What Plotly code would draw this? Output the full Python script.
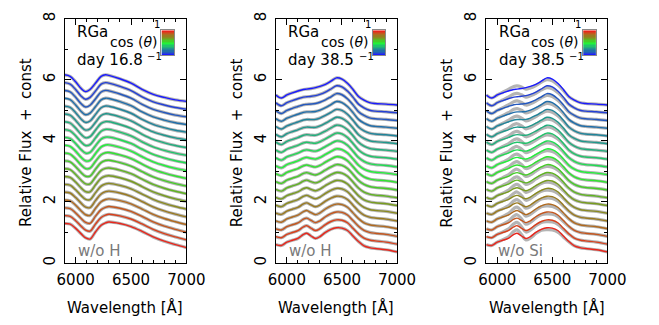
import plotly.graph_objects as go

# ---------------- data ----------------
N_LINES = 20
OFFSETS = [0.00, 0.25, 0.50, 0.75, 1.00, 1.25, 1.50, 1.75, 2.00, 2.25,
           2.50, 2.75, 3.00, 3.25, 3.50, 3.75, 4.00, 4.25, 4.50, 4.75]
COS_THETA = [1.0, 0.895, 0.789, 0.684, 0.579, 0.474, 0.368, 0.263, 0.158, 0.053,
             -0.053, -0.158, -0.263, -0.368, -0.474, -0.579, -0.684, -0.789, -0.895, -1.0]

# day 16.8 spectra (bottom = red line, top = blue line, offset removed)
P1_WAVE = [5900, 5950, 6000, 6050, 6090, 6130, 6180, 6230, 6270, 6300,
           6400, 6500, 6600, 6700, 6800, 6900, 7000]
P1_LOW = [1.29, 1.27, 1.13, 0.95, 0.82, 0.78, 1.02, 1.23, 1.31, 1.34,
          1.29, 1.19, 1.03, 0.85, 0.71, 0.60, 0.50]
P1_HIGH = [1.41, 1.36, 1.18, 0.96, 0.86, 0.93, 1.14, 1.36, 1.41, 1.39,
           1.28, 1.14, 0.93, 0.77, 0.67, 0.59, 0.54]

# day 38.5 spectra
P2_WAVE = [5900, 5950, 6000, 6050, 6100, 6150, 6180, 6220, 6260, 6300, 6350,
           6400, 6450, 6500, 6550, 6600, 6650, 6700, 6750, 6800, 6900, 7000]
P2_LOW = [0.60, 0.57, 0.68, 0.74, 0.80, 0.93, 0.97, 0.88, 0.80, 0.86, 1.00,
          1.10, 1.15, 1.14, 1.06, 0.88, 0.70, 0.56, 0.50, 0.47, 0.43, 0.36]
P2_HIGH = [0.75, 0.65, 0.75, 0.82, 0.88, 0.93, 0.94, 0.96, 0.99, 1.03, 1.10,
           1.20, 1.31, 1.27, 1.13, 0.93, 0.70, 0.58, 0.50, 0.47, 0.45, 0.42]
# difference of the "w/o Si" model from the full model
NO_SI_DIFF = [0.0, 0.0, 0.0, 0.02, 0.05, 0.10, 0.11, 0.05, -0.05, -0.05, -0.04,
              -0.03, -0.06, -0.06, -0.05, -0.03, -0.01, 0.0, 0.0, 0.0, 0.0, 0.0]

PANELS = [
    dict(wave=P1_WAVE, low=P1_LOW, high=P1_HIGH, gray_diff=None, day="day 16.8", wo="w/o H"),
    dict(wave=P2_WAVE, low=P2_LOW, high=P2_HIGH, gray_diff=None, day="day 38.5", wo="w/o H"),
    dict(wave=P2_WAVE, low=P2_LOW, high=P2_HIGH, gray_diff=NO_SI_DIFF, day="day 38.5", wo="w/o Si"),
]

X_RANGE = [5900, 7000]
Y_RANGE = [0, 8]

# ---------------- styles ----------------
LINE_COLORS = ["#e8261c", "#d8401c", "#c4561e", "#b06a20", "#9a7a20",
               "#8a8a20", "#789c20", "#60b422", "#46cc28", "#30e430",
               "#22f23a", "#20dc52", "#20c46a", "#20ae7c", "#20988c",
               "#20849a", "#206eaa", "#2458be", "#2440d6", "#1a1aff"]
GRAY = "#b4b4b4"
W, H = 659, 325
FONT = "DejaVu Sans"

# panel pixel boxes (left, right, top, bottom)
BOXES = [(59, 186, 12, 264), (279.3, 405.7, 12, 264), (498.7, 625, 12, 264)]


def px(x):
    return x / W


def py(y):
    return 1 - y / H


def note(x, y, text, size=15, color="black", xanchor="left", angle=0):
    return dict(x=px(x), y=py(y), xref="paper", yref="paper", text=text,
                xanchor=xanchor, yanchor="middle", showarrow=False, textangle=angle,
                borderpad=0, font=dict(size=size, color=color, family=FONT))


fig = go.Figure()
layout = dict(width=W, height=H, margin=dict(l=0, r=0, t=0, b=0),
              paper_bgcolor="white", plot_bgcolor="white", showlegend=False,
              font=dict(family=FONT, size=15, color="black"))
annotations = []

for p, (panel, box) in enumerate(zip(PANELS, BOXES)):
    sfx = "" if p == 0 else str(p + 1)
    xa, ya = "x" + sfx, "y" + sfx
    l, r, t, b = box
    layout["xaxis" + sfx] = dict(
        domain=[px(l), px(r)], range=X_RANGE, anchor=ya,
        showline=True, linecolor="black", linewidth=1, mirror="allticks",
        ticks="inside", ticklen=6, tickcolor="black", dtick=500, tick0=6000,
        minor=dict(dtick=100, ticks="inside", ticklen=3, tickcolor="black"),
        ticklabelstandoff=3,
        showgrid=False, zeroline=False, tickfont=dict(size=15, family=FONT))
    layout["yaxis" + sfx] = dict(
        domain=[py(b), py(t)], range=Y_RANGE, anchor=xa,
        showline=True, linecolor="black", linewidth=1, mirror="allticks",
        ticks="inside", ticklen=6, tickcolor="black", dtick=2, tick0=0,
        minor=dict(dtick=1, ticks="inside", ticklen=3, tickcolor="black"),
        ticklabelstandoff=3,
        tickangle=-90, showgrid=False, zeroline=False,
        tickfont=dict(size=15, family=FONT))

    wave = panel["wave"]
    curves = []
    for i in range(N_LINES):
        f = i / (N_LINES - 1)
        ys = [lo * (1 - f) + hi * f + OFFSETS[i] for lo, hi in zip(panel["low"], panel["high"])]
        curves.append(ys)
    # gray model lines underneath
    for i in range(N_LINES):
        gy = curves[i] if panel["gray_diff"] is None else [
            v + d for v, d in zip(curves[i], panel["gray_diff"])]
        fig.add_trace(go.Scatter(x=wave, y=gy, mode="lines", xaxis=xa, yaxis=ya,
                                 line=dict(color=GRAY, width=3.2, shape="spline"),
                                 hoverinfo="skip"))
    for i in range(N_LINES):
        fig.add_trace(go.Scatter(x=wave, y=curves[i], mode="lines", xaxis=xa, yaxis=ya,
                                 line=dict(color=LINE_COLORS[i], width=1.4, shape="spline"),
                                 name="cos=%.2f" % COS_THETA[i]))

    # colour bar inset as a heatmap
    dx = l - BOXES[0][0]
    csfx = str(p + 4)
    cbx, cby = "x" + csfx, "y" + csfx
    layout["xaxis" + csfx] = dict(domain=[px(160 + dx), px(173.3 + dx)], anchor=cby,
                                  showticklabels=False, ticks="", showgrid=False,
                                  zeroline=False, showline=True, mirror=True,
                                  linecolor="#8a8a8a", linewidth=1, fixedrange=True)
    layout["yaxis" + csfx] = dict(domain=[py(50), py(24)], anchor=cbx,
                                  showticklabels=False, ticks="", showgrid=False,
                                  zeroline=False, showline=True, mirror=True,
                                  linecolor="#8a8a8a", linewidth=1, fixedrange=True)
    cos_sorted = sorted(COS_THETA)
    cscale = [[k / (N_LINES - 1), LINE_COLORS[N_LINES - 1 - k]] for k in range(N_LINES)]
    fig.add_trace(go.Heatmap(z=[[c] for c in cos_sorted], y=cos_sorted, x=[0],
                             xaxis=cbx, yaxis=cby, colorscale=cscale, zmin=-1, zmax=1,
                             showscale=False, hoverinfo="skip"))

    # texts
    annotations += [
        note(71 + dx, 26, "RGa"),
        note(71 + dx, 55, panel["day"]),
        note(105 + dx, 36, "cos (<i>θ</i>)", size=14),
        note(155 + dx, 18, "1", size=10, xanchor="center"),
        note(153 + dx, 51, "−1", size=10, xanchor="center"),
        note(95 + dx, 252, panel["wo"], color="#7a7a7a", xanchor="center"),
        note((l + r) / 2, 310, "Wavelength [Å]", xanchor="center"),
        note(18 + dx, 140, "Relative Flux  +  const", xanchor="center", angle=-90),
    ]

layout["annotations"] = annotations
fig.update_layout(**layout)
fig.write_html("out.html")
